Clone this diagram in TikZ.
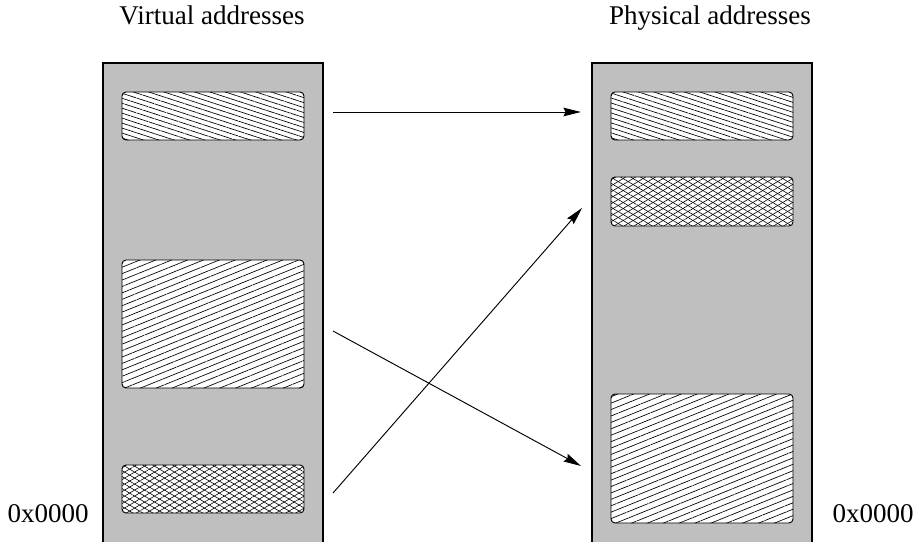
\documentclass[tikz,border=0pt]{standalone}
\usepackage{fontspec}
\setmainfont{Liberation Serif}
\usetikzlibrary{patterns.meta,arrows.meta}
\def\pxu{0.37pt}
\tikzset{
  column/.style={rectangle, draw, line width=0.4pt, fill=black!25, inner sep=0pt, minimum width=220*\pxu},
  segment/.style={rectangle, draw, line width=0.35pt, rounded corners=1.5pt, inner sep=0pt, minimum width=182*\pxu, preaction={fill=white}},
  hatchdown/.style={segment, pattern={Lines[angle=-18, distance=1.75pt, line width=0.25pt]}},
  hatchup/.style={segment, pattern={Lines[angle=22, distance=2.2pt, line width=0.25pt]}},
  crossed/.style={segment, pattern={Lines[angle=31, distance=1.9pt, line width=0.22pt]}, postaction={pattern={Lines[angle=-31, distance=1.9pt, line width=0.22pt]}}},
  label/.style={font=\fontsize{10}{12}\selectfont, inner sep=0pt},
  map/.style={-{Stealth[length=6.5pt, width=3.2pt, inset=0.8pt]}, line width=0.35pt}
}
\begin{document}
\begin{tikzpicture}[x=\pxu, y=-\pxu]
      \useasboundingbox (0,0) rectangle (914,541);
      % Columns
      \node (vcol) [column, minimum height=484*\pxu] at (213,305) {};
      \node (pcol) [column, minimum height=484*\pxu] at (702,305) {};

      % Titles
      \node (vtitle) [label, anchor=base] at (212,25) {Virtual addresses};
      \node (ptitle) [label, anchor=base] at (710,25) {Physical addresses};
      \node (vzero) [label, anchor=base west] at (7,522) {0x0000};
      \node (pzero) [label, anchor=base west] at (832,522) {0x0000};

      % Virtual segments
      \node (vtop) [hatchdown, minimum height=48*\pxu] at (213,116) {};
      \node (vmid) [hatchup, minimum height=128*\pxu] at (213,324) {};
      \node (vbot) [crossed, minimum height=48*\pxu] at (213,489) {};

      % Physical segments
      \node (ptop) [hatchdown, minimum height=48*\pxu] at (702,116) {};
      \node (pmid) [crossed, minimum height=49*\pxu] at (702,201.5) {};
      \node (pbot) [hatchup, minimum height=129*\pxu] at (702,458.5) {};

      % Arrow ends
      \coordinate (vtopout) at (333,112);
      \coordinate (vmidout) at (333,331);
      \coordinate (vbotout) at (333,493);
      \coordinate (ptopin) at (581,112);
      \coordinate (pmidin) at (582,208);
      \coordinate (pbotin) at (581,466);

      % Arrows
      \draw [map] (vtopout) -- (ptopin);
      \draw [map] (vmidout) -- (pbotin);
      \draw [map] (vbotout) -- (pmidin);
\end{tikzpicture}
\end{document}
